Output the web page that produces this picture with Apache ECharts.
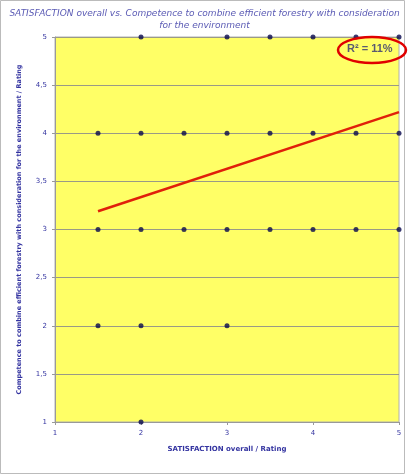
<!DOCTYPE html>
<html><head><meta charset="utf-8">
<script src="https://cdn.jsdelivr.net/npm/echarts@6/dist/echarts.min.js"></script>
<style>html,body{margin:0;padding:0;background:#fff}#c{width:409px;height:475px}</style>
</head><body><div id="c"></div>
<script>
const titleLines = ['SATISFACTION overall vs. Competence to combine efficient forestry with consideration', 'for the environment'];
const xName = 'SATISFACTION overall / Rating';
const yName = 'Competence to combine efficient forestry with consideration for the environment / Rating';
const pointsX = [2, 3, 3.5, 4, 4.5, 5, 1.5, 2, 2.5, 3, 3.5, 4, 4.5, 5, 1.5, 2, 2.5, 3, 3.5, 4, 4.5, 5, 1.5, 2, 3, 2];
const pointsY = [5, 5, 5, 5, 5, 5, 4, 4, 4, 4, 4, 4, 4, 4, 3, 3, 3, 3, 3, 3, 3, 3, 2, 2, 2, 1];
const trendX = [1.5, 5];
const trendY = [3.19, 4.22];
const rSquaredLabel = 'R² = 11%';

const chart = echarts.init(document.getElementById('c'), null, {renderer: 'canvas'});
const fmt = v => String(v).replace('.', ',');
chart.setOption({
  animation: false,
  backgroundColor: '#fff',
  title: {
    text: titleLines.join('\n'), left: 'center', top: 3,
    textStyle: {fontFamily: 'DejaVu Sans', fontStyle: 'italic', fontWeight: 'normal', fontSize: 9, color: '#5a5ab4', lineHeight: 12}
  },
  grid: {left: 55, right: 10, top: 37, bottom: 53, show: true, backgroundColor: '#ffff66', borderColor: '#b0b0b0', borderWidth: 1},
  xAxis: {
    type: 'value', min: 1, max: 5, interval: 1,
    name: xName, nameLocation: 'middle', nameGap: 24,
    nameTextStyle: {fontFamily: 'DejaVu Sans', fontWeight: 'bold', fontSize: 7, color: '#3333a0'},
    axisLine: {show: true, lineStyle: {color: '#999'}},
    axisTick: {show: true, length: 3, lineStyle: {color: '#999'}},
    axisLabel: {fontFamily: 'DejaVu Sans', fontSize: 7, color: '#3333a0', margin: 8, formatter: fmt},
    splitLine: {show: false}
  },
  yAxis: {
    type: 'value', min: 1, max: 5, interval: 0.5,
    name: yName, nameLocation: 'middle', nameGap: 32,
    nameTextStyle: {fontFamily: 'DejaVu Sans', fontWeight: 'bold', fontSize: 6.5, color: '#3333a0'},
    axisLine: {show: true, lineStyle: {color: '#999'}},
    axisTick: {show: true, length: 3, lineStyle: {color: '#999'}},
    axisLabel: {fontFamily: 'DejaVu Sans', fontSize: 7, color: '#3333a0', margin: 8, formatter: fmt},
    splitLine: {show: true, lineStyle: {color: '#9a9a86', width: 1}}
  },
  series: [
    {
      type: 'line', data: trendX.map((x, i) => [x, trendY[i]]),
      symbol: 'none', lineStyle: {color: '#e0200a', width: 2.5}, z: 2
    },
    {
      type: 'scatter', data: pointsX.map((x, i) => [x, pointsY[i]]),
      symbolSize: 5, itemStyle: {color: '#08084e'}, z: 3
    }
  ],
  graphic: [
    {type: 'rect', shape: {x: 0.5, y: 0.5, width: 404, height: 473}, style: {fill: 'none', stroke: '#bbbbbb', lineWidth: 1}, silent: true},
    {type: 'text', left: 347, top: 43, style: {text: rSquaredLabel, font: 'bold 11px "Liberation Sans", Arial', fill: '#5a5a70'}, z: 10},
    {type: 'ellipse', shape: {cx: 372, cy: 50, rx: 34, ry: 13}, style: {fill: 'none', stroke: '#e00000', lineWidth: 2.5}, z: 10}
  ]
});
</script></body></html>
